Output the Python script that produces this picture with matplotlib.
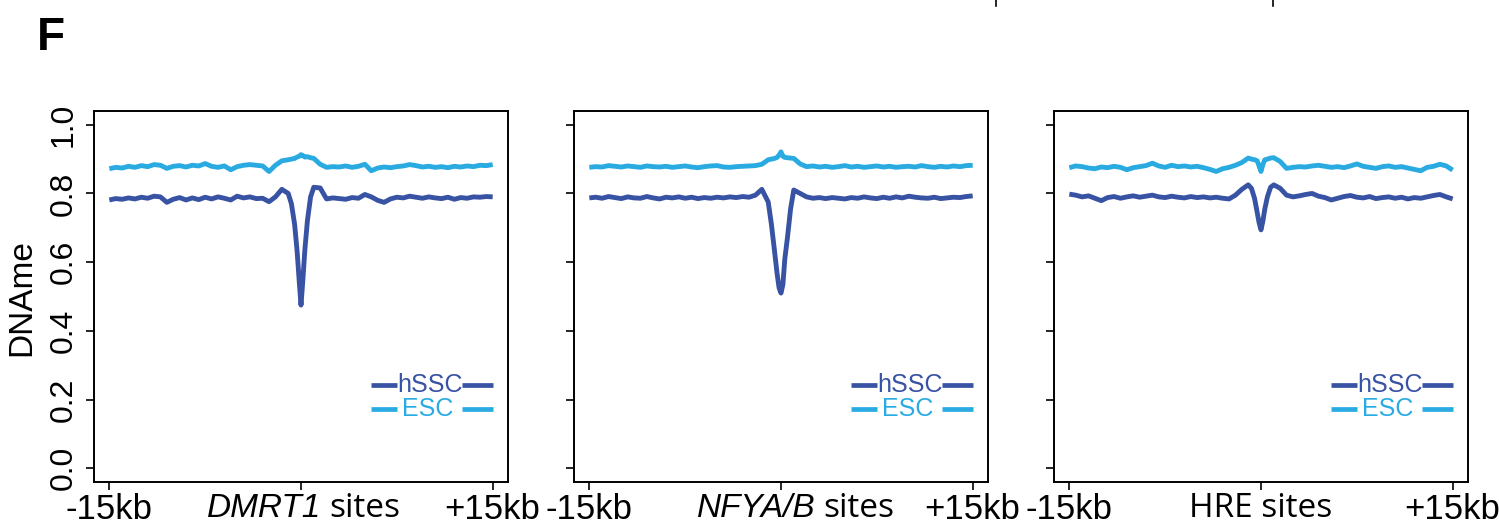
import matplotlib.pyplot as plt
from matplotlib import transforms
from matplotlib.lines import Line2D

plt.rcParams.update({'font.family': ['Liberation Sans', 'DejaVu Sans']})

# distance to site (kb), shared by all panels
X_KB = [-15, -14.5, -14, -13.5, -13, -12.5, -12, -11.5, -11, -10.5, -10, -9.5, -9, -8.5,
        -8, -7.5, -7, -6.5, -6, -5.5, -5, -4.5, -4, -3.5, -3, -2.5, -2,
        -1.5, -1.0, -0.75, -0.5, -0.3, -0.15, 0, 0.15, 0.3, 0.5, 0.75, 1.0, 1.5,
        2, 2.5, 3, 3.5, 4, 4.5, 5, 5.5, 6, 6.5, 7, 7.5, 8, 8.5,
        9, 9.5, 10, 10.5, 11, 11.5, 12, 12.5, 13, 13.5, 14, 14.5, 15]

# DMRT1 sites
DMRT1_HSSC = [0.781, 0.785, 0.783, 0.787, 0.784, 0.789, 0.786, 0.792, 0.790, 0.774, 0.783, 0.788, 0.781, 0.787,
              0.782, 0.789, 0.784, 0.790, 0.786, 0.781, 0.792, 0.787, 0.790, 0.785, 0.786, 0.776, 0.790,
              0.812, 0.800, 0.770, 0.710, 0.630, 0.550, 0.475, 0.550, 0.635, 0.720, 0.790, 0.818, 0.816,
              0.784, 0.787, 0.785, 0.783, 0.788, 0.786, 0.797, 0.790, 0.780, 0.774, 0.784, 0.789, 0.787, 0.792,
              0.789, 0.786, 0.790, 0.787, 0.785, 0.789, 0.783, 0.788, 0.786, 0.790, 0.789, 0.791, 0.790]
DMRT1_ESC = [0.872, 0.876, 0.874, 0.879, 0.876, 0.881, 0.878, 0.884, 0.882, 0.873, 0.879, 0.881, 0.877, 0.882,
             0.880, 0.887, 0.879, 0.876, 0.880, 0.869, 0.878, 0.882, 0.884, 0.882, 0.880, 0.864, 0.882,
             0.895, 0.898, 0.900, 0.902, 0.906, 0.908, 0.913, 0.910, 0.906, 0.907, 0.904, 0.902, 0.885,
             0.876, 0.878, 0.877, 0.880, 0.876, 0.879, 0.885, 0.866, 0.874, 0.877, 0.875, 0.878, 0.880, 0.884,
             0.881, 0.877, 0.879, 0.876, 0.878, 0.875, 0.879, 0.877, 0.880, 0.878, 0.882, 0.881, 0.884]

# NFYA/B sites
NFY_HSSC = [0.787, 0.789, 0.786, 0.791, 0.788, 0.785, 0.790, 0.787, 0.786, 0.791, 0.787, 0.784, 0.789, 0.787,
            0.790, 0.786, 0.789, 0.785, 0.788, 0.786, 0.789, 0.787, 0.790, 0.788, 0.791, 0.789, 0.795,
            0.812, 0.775, 0.710, 0.630, 0.565, 0.525, 0.510, 0.535, 0.610, 0.670, 0.755, 0.810, 0.800,
            0.790, 0.786, 0.788, 0.785, 0.788, 0.786, 0.784, 0.788, 0.786, 0.790, 0.787, 0.785, 0.789, 0.786,
            0.790, 0.787, 0.792, 0.789, 0.787, 0.786, 0.789, 0.785, 0.787, 0.789, 0.788, 0.791, 0.793]
NFY_ESC = [0.876, 0.878, 0.877, 0.881, 0.879, 0.877, 0.880, 0.878, 0.876, 0.880, 0.878, 0.877, 0.879, 0.876,
           0.878, 0.880, 0.877, 0.875, 0.878, 0.880, 0.881, 0.877, 0.876, 0.878, 0.879, 0.880, 0.881,
           0.885, 0.898, 0.900, 0.902, 0.905, 0.912, 0.921, 0.908, 0.905, 0.904, 0.903, 0.902, 0.886,
           0.878, 0.880, 0.877, 0.879, 0.876, 0.878, 0.881, 0.877, 0.879, 0.876, 0.878, 0.880, 0.877, 0.879,
           0.876, 0.878, 0.879, 0.877, 0.881, 0.878, 0.876, 0.879, 0.877, 0.880, 0.878, 0.881, 0.882]

# HRE sites
HRE_HSSC = [0.798, 0.795, 0.790, 0.793, 0.786, 0.779, 0.788, 0.791, 0.786, 0.790, 0.793, 0.789, 0.792, 0.795,
            0.790, 0.788, 0.792, 0.789, 0.787, 0.791, 0.788, 0.790, 0.787, 0.789, 0.786, 0.784, 0.795,
            0.812, 0.825, 0.815, 0.785, 0.745, 0.715, 0.694, 0.720, 0.755, 0.790, 0.818, 0.825, 0.815,
            0.795, 0.790, 0.793, 0.797, 0.800, 0.792, 0.788, 0.781, 0.786, 0.791, 0.794, 0.789, 0.787, 0.791,
            0.785, 0.788, 0.790, 0.786, 0.789, 0.784, 0.788, 0.786, 0.790, 0.794, 0.797, 0.790, 0.784]
HRE_ESC = [0.875, 0.880, 0.878, 0.874, 0.872, 0.877, 0.875, 0.879, 0.876, 0.869, 0.875, 0.878, 0.881, 0.888,
           0.880, 0.876, 0.882, 0.878, 0.880, 0.877, 0.879, 0.875, 0.870, 0.864, 0.872, 0.876, 0.882,
           0.890, 0.903, 0.900, 0.898, 0.895, 0.880, 0.864, 0.885, 0.898, 0.900, 0.903, 0.904, 0.893,
           0.873, 0.876, 0.878, 0.877, 0.880, 0.882, 0.879, 0.876, 0.878, 0.875, 0.880, 0.886, 0.879, 0.876,
           0.873, 0.878, 0.880, 0.876, 0.878, 0.874, 0.870, 0.866, 0.876, 0.879, 0.885, 0.880, 0.868]

SITE_NAMES = ["DMRT1", "NFYA/B", "HRE"]
SITE_ITALIC = [True, True, False]
HSSC_SERIES = [DMRT1_HSSC, NFY_HSSC, HRE_HSSC]
ESC_SERIES = [DMRT1_ESC, NFY_ESC, HRE_ESC]
Y_TICKS = [0.0, 0.2, 0.4, 0.6, 0.8, 1.0]

HSSC_COLOR = "#3953A4"
ESC_COLOR = "#29ABE2"

W, H = 1499, 530
fig = plt.figure(figsize=(W / 100, H / 100), dpi=100)

lefts = [94, 574, 1054]      # panel left edges in pixels
label_gap = [1.9, 3.0, 0.0]  # where the italic name meets " sites" (kb)

for i, left in enumerate(lefts):
    ax = fig.add_axes([left / W, (H - 482) / H, 414 / W, 371 / H])
    ax.plot(X_KB, ESC_SERIES[i], color=ESC_COLOR, lw=3.5, solid_capstyle='butt')
    ax.plot(X_KB, HSSC_SERIES[i], color=HSSC_COLOR, lw=3.5, solid_capstyle='butt')

    ax.set_xlim(-16.2, 16.2)
    ax.set_ylim(-0.04, 1.04)
    ax.set_xticks([-15, 0, 15])
    ax.set_xticklabels(["-15kb", "", "+15kb"], fontsize=25)
    ax.set_yticks(Y_TICKS)
    if i == 0:
        ax.set_yticklabels([f"{v:.1f}" for v in Y_TICKS], fontsize=23, rotation=90, va='center')
    else:
        ax.set_yticklabels([])
    ax.tick_params(direction='out', length=6, width=1.2, colors='black')
    ax.tick_params(axis='x', pad=2)
    ax.tick_params(axis='y', pad=5)
    for sp in ax.spines.values():
        sp.set_linewidth(1.4)

    # centre label: "<name> sites"
    tr = transforms.blended_transform_factory(ax.transData, ax.transAxes)
    if SITE_ITALIC[i]:
        ax.text(label_gap[i] - 0.3, -0.095, SITE_NAMES[i], transform=tr, fontsize=24,
                style='italic', ha='right', va='baseline')
        ax.text(label_gap[i] + 0.3, -0.095, "sites", transform=tr, fontsize=24,
                family='Open Sans', ha='left', va='baseline')
    else:
        ax.text(label_gap[i], -0.095, SITE_NAMES[i] + " sites", transform=tr, fontsize=24,
                family='Open Sans', ha='center', va='baseline')

    # legend drawn R-style: line - label - line
    for y, name, col, tx in [(0.262, "hSSC", HSSC_COLOR, 0.812), (0.197, "ESC", ESC_COLOR, 0.805)]:
        ax.plot([0.668, 0.731], [y, y], transform=ax.transAxes, color=col, lw=3.4,
                solid_capstyle='butt', clip_on=False)
        ax.plot([0.889, 0.964], [y, y], transform=ax.transAxes, color=col, lw=3.4,
                solid_capstyle='butt', clip_on=False)
        ax.text(tx, y, name, transform=ax.transAxes, color=col, fontsize=18,
                ha='center', va='center')

fig.text(22 / W, 1 - 298 / H, "DNAme", rotation=90, fontsize=24, ha='center', va='center')
fig.text(37 / W, 1 - 50 / H, "F", fontsize=33, fontweight='bold', ha='left', va='baseline')

# small tick marks left over from the panel above
for xp in [996, 1273]:
    fig.add_artist(Line2D([xp / W, xp / W], [1, 1 - 6 / H], color='black', lw=1.2))

fig.savefig("out.png", dpi=100)
